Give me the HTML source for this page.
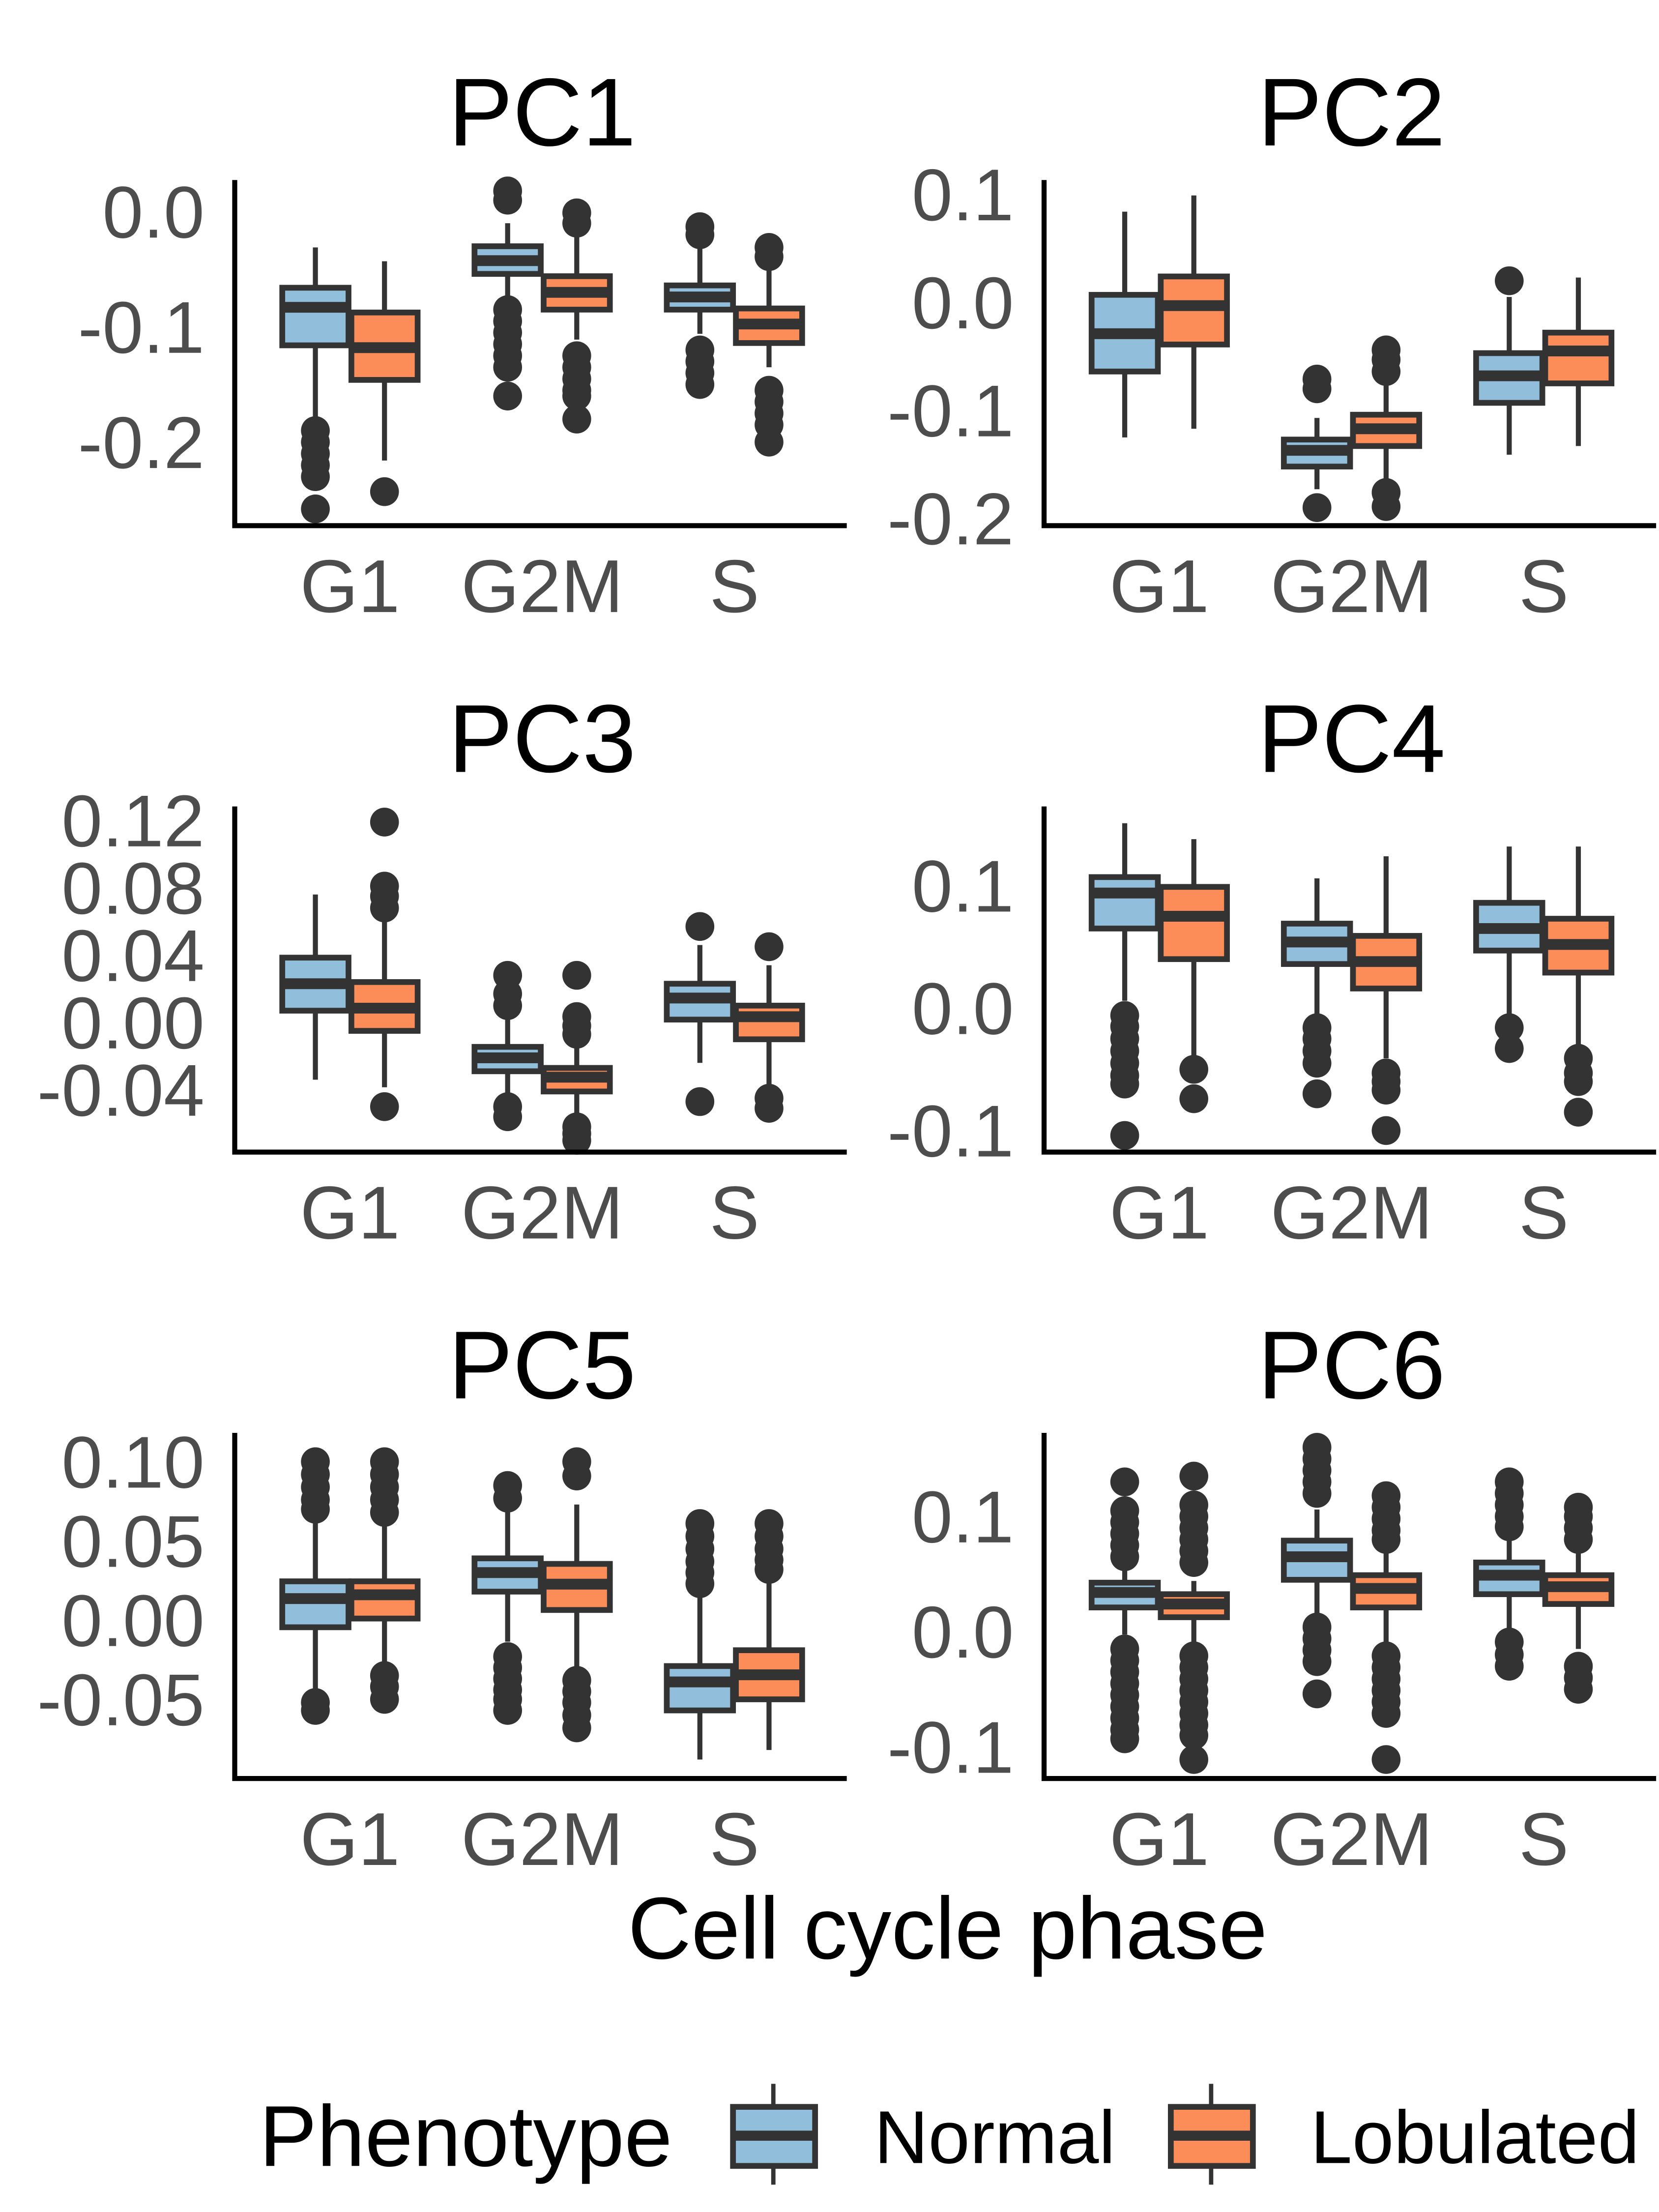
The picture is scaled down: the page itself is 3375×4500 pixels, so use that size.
<!DOCTYPE html>
<html><head><meta charset="utf-8"><style>
html,body{margin:0;padding:0;background:#fff;}
svg{display:block;}
text{font-family:"Liberation Sans",sans-serif;}
</style></head><body>
<svg id="chart" width="3375" height="4500" viewBox="0 0 1152 1536" xmlns="http://www.w3.org/2000/svg">
<text x="658" y="1360" font-size="61" text-anchor="middle" fill="#000">Cell cycle phase</text>
<g>
<text x="180" y="1504" font-size="60" fill="#000">Phenotype</text>
<g>
<line x1="537" y1="1447" x2="537" y2="1517" stroke="#333" stroke-width="3"/>
<rect x="509" y="1463" width="57" height="41" fill="#91bfdb" stroke="#333" stroke-width="4"/>
<line x1="509" y1="1483" x2="566" y2="1483" stroke="#333" stroke-width="7"/>
</g>
<text x="607" y="1502" font-size="52" fill="#000">Normal</text>
<g>
<line x1="841" y1="1447" x2="841" y2="1517" stroke="#333" stroke-width="3"/>
<rect x="813" y="1463" width="57" height="41" fill="#fc8d59" stroke="#333" stroke-width="4"/>
<line x1="813" y1="1483" x2="870" y2="1483" stroke="#333" stroke-width="7"/>
</g>
<text x="910" y="1502" font-size="52" fill="#000">Lobulated</text>
</g>
</svg>
<script>
// categories
const categories = ["G1","G2M","S"];
// box stats [low whisker, q1, median, q3, high whisker] per category
const pc1Normal = [[-0.178,-0.116,-0.083,-0.066,-0.031],[-0.076,-0.054,-0.0425,-0.03,-0.01],[-0.106,-0.085,-0.074,-0.064,-0.031]];
const pc1Lobulated = [[-0.216,-0.146,-0.118,-0.0875,-0.043],[-0.111,-0.085,-0.07,-0.056,-0.021],[-0.135,-0.114,-0.0975,-0.084,-0.049]];
const pc1NormalOut = [[-0.19,-0.2,-0.21,-0.22,-0.23,-0.258],[0.018,0.01,-0.085,-0.095,-0.105,-0.115,-0.125,-0.135,-0.16],[-0.013,-0.02,-0.12,-0.13,-0.14,-0.15]];
const pc1LobulatedOut = [[-0.243],[-0.001,-0.01,-0.125,-0.135,-0.145,-0.155,-0.16,-0.18],[-0.031,-0.039,-0.155,-0.165,-0.175,-0.185,-0.2]];
const pc2Normal = [[-0.125,-0.064,-0.029,0.007,0.084],[-0.173,-0.152,-0.137,-0.127,-0.107],[-0.141,-0.093,-0.068,-0.047,0.005]];
const pc2Lobulated = [[-0.117,-0.039,-0.003,0.024,0.099],[-0.167,-0.133,-0.117,-0.104,-0.069],[-0.133,-0.075,-0.045,-0.028,0.023]];
const pc2NormalOut = [[],[-0.071,-0.08,-0.19],[0.02]];
const pc2LobulatedOut = [[],[-0.044,-0.053,-0.064,-0.176,-0.189],[]];
const pc3Normal = [[-0.034,0.007,0.023,0.0385,0.076],[-0.043,-0.029,-0.021,-0.0145,0.0085],[-0.024,0.0017,0.0145,0.023,0.046]];
const pc3Lobulated = [[-0.0385,-0.005,0.0085,0.024,0.062],[-0.056,-0.041,-0.0325,-0.027,-0.012],[-0.0385,-0.01,0.0034,0.01,0.034]];
const pc3NormalOut = [[],[0.028,0.017,0.01,-0.05,-0.056],[0.057,-0.047]];
const pc3LobulatedOut = [[0.119,0.081,0.075,0.068,-0.05],[0.028,0.0035,-0.002,-0.007,-0.062,-0.066,-0.07],[0.045,-0.045,-0.051]];
const pc4Normal = [[0.006,0.065,0.094,0.107,0.151],[-0.006,0.036,0.054,0.069,0.106],[-0.006,0.047,0.065,0.086,0.132]];
const pc4Lobulated = [[-0.039,0.04,0.075,0.099,0.138],[-0.041,0.016,0.038,0.059,0.124],[-0.033,0.029,0.052,0.073,0.132]];
const pc4NormalOut = [[-0.006,-0.015,-0.025,-0.035,-0.045,-0.055,-0.062,-0.104],[-0.016,-0.025,-0.035,-0.045,-0.07],[-0.016,-0.033]];
const pc4LobulatedOut = [[-0.05,-0.074],[-0.053,-0.06,-0.067,-0.1],[-0.041,-0.053,-0.06,-0.085]];
const pc5Normal = [[-0.044,-0.0045,0.0136,0.0245,0.064],[-0.0136,0.018,0.03,0.039,0.07],[-0.088,-0.057,-0.039,-0.029,0.0155]];
const pc5Lobulated = [[-0.027,0.001,0.016,0.0245,0.062],[-0.03,0.0064,0.0227,0.0355,0.073],[-0.082,-0.05,-0.0345,-0.019,0.0245]];
const pc5NormalOut = [[0.1,0.092,0.084,0.076,0.07,-0.052,-0.057],[0.085,0.077,-0.023,-0.03,-0.037,-0.044,-0.05,-0.057],[0.061,0.053,0.045,0.037,0.03,0.023]];
const pc5LobulatedOut = [[0.1,0.092,0.084,0.076,0.068,-0.035,-0.042,-0.05],[0.1,0.091,-0.038,-0.045,-0.052,-0.06,-0.068],[0.061,0.053,0.045,0.038,0.032]];
const pc6Normal = [[-0.0025,0.021,0.034,0.0425,0.054],[0.016,0.045,0.065,0.079,0.106],[0.001,0.0325,0.049,0.06,0.085]];
const pc6Lobulated = [[-0.009,0.0125,0.024,0.0325,0.044],[-0.009,0.021,0.0375,0.049,0.0725],[-0.015,0.024,0.039,0.049,0.0725]];
const pc6NormalOut = [[0.13,0.105,0.095,0.085,0.075,0.065,-0.015,-0.025,-0.035,-0.045,-0.055,-0.065,-0.075,-0.085,-0.093],[0.16,0.15,0.14,0.13,0.12,0.004,-0.006,-0.016,-0.026,-0.054],[0.13,0.12,0.11,0.1,0.091,-0.009,-0.02,-0.03]];
const pc6LobulatedOut = [[0.135,0.11,0.1,0.09,0.08,0.07,0.06,-0.021,-0.031,-0.041,-0.051,-0.061,-0.071,-0.081,-0.09,-0.111],[0.118,0.108,0.098,0.088,0.08,-0.021,-0.031,-0.041,-0.051,-0.061,-0.071,-0.111],[0.108,0.1,0.09,0.08,-0.03,-0.04,-0.05]];
// y tick labels per panel
const pc1Ticks = [0.0,-0.1,-0.2];
const pc1TickLabels = ["0.0","-0.1","-0.2"];
const pc2Ticks = [0.1,0.0,-0.1,-0.2];
const pc2TickLabels = ["0.1","0.0","-0.1","-0.2"];
const pc3Ticks = [0.12,0.08,0.04,0.0,-0.04];
const pc3TickLabels = ["0.12","0.08","0.04","0.00","-0.04"];
const pc4Ticks = [0.1,0.0,-0.1];
const pc4TickLabels = ["0.1","0.0","-0.1"];
const pc5Ticks = [0.10,0.05,0.0,-0.05];
const pc5TickLabels = ["0.10","0.05","0.00","-0.05"];
const pc6Ticks = [0.1,0.0,-0.1];
const pc6TickLabels = ["0.1","0.0","-0.1"];

const NS = "http://www.w3.org/2000/svg";
const svg = document.getElementById("chart");
function mk(tag, attrs, parent){
  const e = document.createElementNS(NS, tag);
  for (const k in attrs) e.setAttribute(k, attrs[k]);
  parent.appendChild(e); return e;
}
const panels = [
  {title:"PC1", x0:163, top:125, bot:365, vmax:0.0275, vmin:-0.2725, n:pc1Normal, l:pc1Lobulated, no:pc1NormalOut, lo:pc1LobulatedOut, t:pc1Ticks, tl:pc1TickLabels},
  {title:"PC2", x0:725, top:125, bot:365, vmax:0.1133, vmin:-0.2067, n:pc2Normal, l:pc2Lobulated, no:pc2NormalOut, lo:pc2LobulatedOut, t:pc2Ticks, tl:pc2TickLabels},
  {title:"PC3", x0:163, top:560, bot:800, vmax:0.1283, vmin:-0.0770, n:pc3Normal, l:pc3Lobulated, no:pc3NormalOut, lo:pc3LobulatedOut, t:pc3Ticks, tl:pc3TickLabels},
  {title:"PC4", x0:725, top:560, bot:800, vmax:0.1647, vmin:-0.1176, n:pc4Normal, l:pc4Lobulated, no:pc4NormalOut, lo:pc4LobulatedOut, t:pc4Ticks, tl:pc4TickLabels},
  {title:"PC5", x0:163, top:995, bot:1235, vmax:0.1182, vmin:-0.1, n:pc5Normal, l:pc5Lobulated, no:pc5NormalOut, lo:pc5LobulatedOut, t:pc5Ticks, tl:pc5TickLabels},
  {title:"PC6", x0:725, top:995, bot:1235, vmax:0.1725, vmin:-0.1275, n:pc6Normal, l:pc6Lobulated, no:pc6NormalOut, lo:pc6LobulatedOut, t:pc6Ticks, tl:pc6TickLabels}
];
const W = 425;
panels.forEach(p => {
  const g = mk("g", {}, svg);
  
  
  const y = v => p.top + (p.vmax - v) / (p.vmax - p.vmin) * (p.bot - p.top);
  const xc = i => p.x0 + 80 + i * 133.5;
  const tt = mk("text", {x: p.x0 + W/2 + 1, y: p.top - 24, "font-size": 67, "text-anchor": "middle", fill: "#000"}, g);
  
  
  tt.textContent = p.title;
  p.t.forEach((v, i) => {
    const t = mk("text", {x: p.x0 - 21, y: y(v) + 18, "font-size": 51, "text-anchor": "end", fill: "#4d4d4d"}, g);
    
    
    t.textContent = p.tl[i];
  });
  categories.forEach((c, i) => {
    const t = mk("text", {x: xc(i), y: p.bot + 60, "font-size": 52, "text-anchor": "middle", fill: "#4d4d4d"}, g);
    
    
    t.textContent = c;
    [[p.n, p.no, "#91bfdb", -24, "normal"], [p.l, p.lo, "#fc8d59", 24, "lobulated"]].forEach(s => {
      const st = s[0][i], cx = xc(i) + s[3];
      const bg = mk("g", {}, g);
      
      
      mk("line", {x1: cx, x2: cx, y1: y(st[0]), y2: y(st[4]), stroke: "#333", "stroke-width": 3.5}, bg);
      mk("rect", {x: cx - 23, y: y(st[3]), width: 46, height: y(st[1]) - y(st[3]), fill: s[2], stroke: "#333", "stroke-width": 4}, bg);
      mk("line", {x1: cx - 23, x2: cx + 23, y1: y(st[2]), y2: y(st[2]), stroke: "#333", "stroke-width": 7.5}, bg);
      s[1][i].forEach(v => {
        const d = mk("circle", {cx: cx, cy: y(v), r: 10, fill: "#333"}, bg);
        
        
      });
    });
  });
  const ax = mk("path", {d: `M${p.x0} ${p.top} V${p.bot} H${p.x0 + W}`, fill: "none", stroke: "#000", "stroke-width": 3.5}, g);
  
  
});
</script>
</body></html>
